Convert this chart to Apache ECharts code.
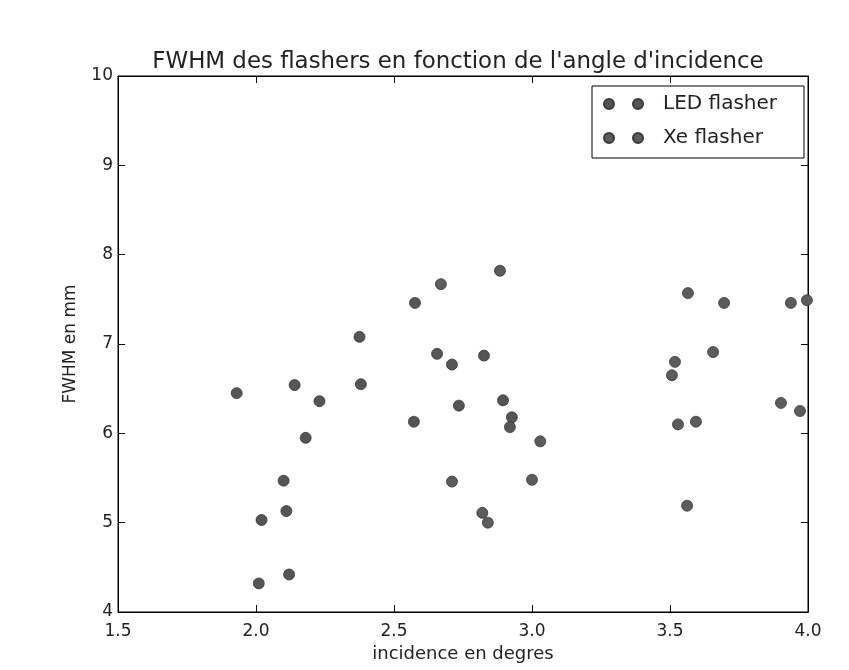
<!DOCTYPE html>
<html><head><meta charset="utf-8">
<script src="https://cdn.jsdelivr.net/npm/echarts@6/dist/echarts.min.js"></script>
<style>html,body{margin:0;padding:0;background:#fff}#c{width:849px;height:670px}</style>
</head><body><div id="c"></div>
<script>
var title = "FWHM des flashers en fonction de l'angle d'incidence";
var xName = "incidence en degres";
var yName = "FWHM en mm";
var seriesNames = ["LED flasher", "Xe flasher"];
var ledData = [
  [1.93, 6.45], [2.14, 6.54], [2.23, 6.36], [2.375, 7.08], [2.38, 6.55],
  [2.18, 5.95], [2.10, 5.47], [2.11, 5.13], [2.02, 5.03], [2.12, 4.42],
  [2.01, 4.32], [2.576, 7.46], [2.656, 6.89], [2.71, 6.77], [2.826, 6.87],
  [2.735, 6.31], [2.572, 6.13], [2.895, 6.37], [2.927, 6.18], [2.92, 6.07]
];
var xeData = [
  [2.67, 7.67], [2.884, 7.82], [3.03, 5.91], [2.71, 5.46], [3.0, 5.48],
  [2.82, 5.11], [2.84, 5.0], [3.565, 7.57], [3.696, 7.46], [3.938, 7.46],
  [3.996, 7.49], [3.656, 6.91], [3.518, 6.80], [3.507, 6.65], [3.529, 6.10],
  [3.594, 6.13], [3.902, 6.34], [3.971, 6.25], [3.562, 5.19]
];
var xMin = 1.5, xMax = 4.0, xStep = 0.5;
var yMin = 4, yMax = 10, yStep = 1;

var chart = echarts.init(document.getElementById('c'), null, {renderer: 'canvas'});
var font = 'DejaVu Sans';
function axisCommon(extra) {
  return Object.assign({
    axisLine: {show: true, onZero: false, lineStyle: {color: '#000', width: 1}},
    axisTick: {show: true, inside: true, length: 7, lineStyle: {color: '#000'}},
    splitLine: {show: false}
  }, extra);
}
// two marker dots plus a negligible point that widens the icon box (sets text offset)
var twoDots = 'path://M0,5a5,5 0 1,0 10,0a5,5 0 1,0 -10,0M29,5a5,5 0 1,0 10,0a5,5 0 1,0 -10,0' +
  'M53.96,5a0.02,0.02 0 1,0 0.04,0a0.02,0.02 0 1,0 -0.04,0';
chart.setOption({
  backgroundColor: '#fff',
  animation: false,
  title: {text: title, left: 458, textAlign: 'center', top: 51, padding: 0,
    textStyle: {fontFamily: font, fontSize: 22.9, fontWeight: 'normal', color: '#222'}},
  grid: {left: 118, right: 41, top: 76, bottom: 58, show: true, borderColor: '#000', borderWidth: 1},
  legend: {
    orient: 'vertical', left: 592, top: 86,
    padding: [8, 27, 10, 11],
    itemWidth: 54, itemHeight: 10, itemGap: 14, itemTextGap: 5,
    backgroundColor: '#fff', borderColor: '#000', borderWidth: 1,
    data: [{name: seriesNames[0], icon: twoDots}, {name: seriesNames[1], icon: twoDots}],
    textStyle: {fontFamily: font, fontSize: 20, color: '#222'}
  },
  xAxis: [
    axisCommon({type: 'value', position: 'bottom', min: xMin, max: xMax, interval: xStep,
      name: xName, nameLocation: 'middle', nameGap: 30,
      nameTextStyle: {fontFamily: font, fontSize: 18, color: '#222'},
      axisLabel: {fontFamily: font, fontSize: 17, color: '#222', margin: 11,
        formatter: function (v) { return v.toFixed(1); }}}),
    axisCommon({type: 'value', position: 'top', min: xMin, max: xMax, interval: xStep,
      axisLabel: {show: false}})
  ],
  yAxis: [
    axisCommon({type: 'value', position: 'left', min: yMin, max: yMax, interval: yStep,
      name: yName, nameLocation: 'middle', nameGap: 39,
      nameTextStyle: {fontFamily: font, fontSize: 17, color: '#222'},
      axisLabel: {fontFamily: font, fontSize: 17, color: '#222', margin: 5}}),
    axisCommon({type: 'value', position: 'right', min: yMin, max: yMax, interval: yStep,
      axisLabel: {show: false}})
  ],
  series: [
    {name: seriesNames[0], type: 'scatter', data: ledData, symbolSize: 11, xAxisIndex: 0, yAxisIndex: 0,
      itemStyle: {color: '#555', borderColor: '#3a3a3a', borderWidth: 0.8, opacity: 1}, clip: false},
    {name: seriesNames[1], type: 'scatter', data: xeData, symbolSize: 11, xAxisIndex: 0, yAxisIndex: 0,
      itemStyle: {color: '#5c5c5c', borderColor: '#3a3a3a', borderWidth: 0.8, opacity: 1}, clip: false}
  ]
});
</script></body></html>
